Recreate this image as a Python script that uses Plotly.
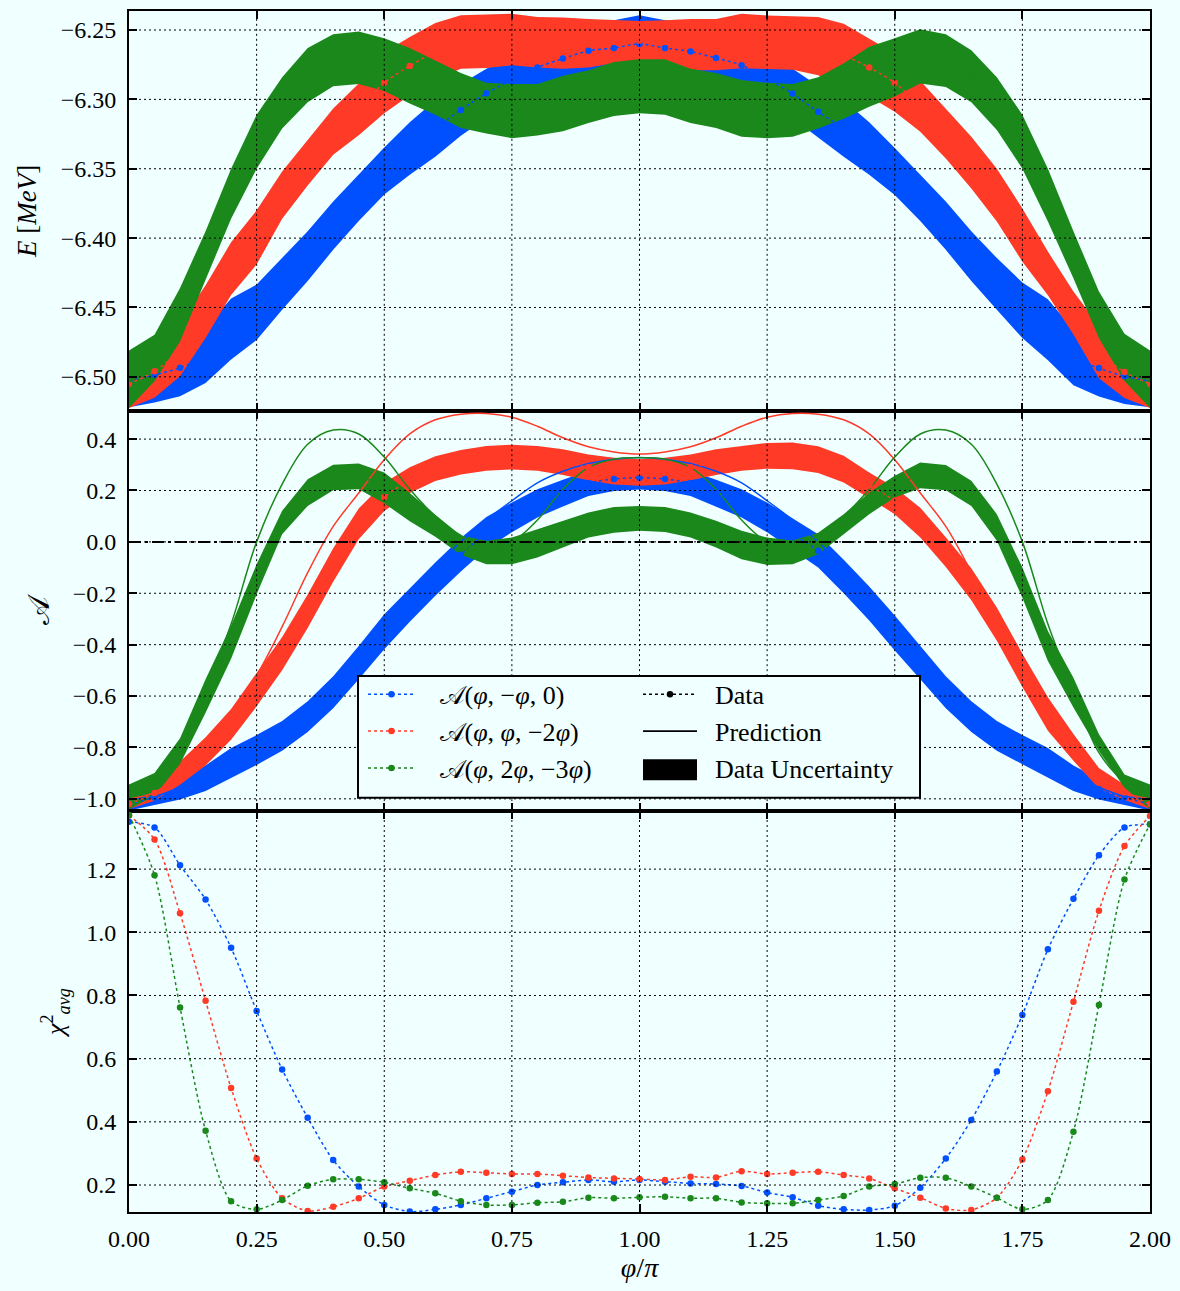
import plotly.graph_objects as go

# ---------------- data ----------------
PHI = [0.00, 0.05, 0.10, 0.15, 0.20, 0.25, 0.30, 0.35, 0.40, 0.45, 0.50,
       0.55, 0.60, 0.65, 0.70, 0.75, 0.80, 0.85, 0.90, 0.95, 1.00,
       1.05, 1.10, 1.15, 1.20, 1.25, 1.30, 1.35, 1.40, 1.45, 1.50,
       1.55, 1.60, 1.65, 1.70, 1.75, 1.80, 1.85, 1.90, 1.95, 2.00]

SERIES = ['𝒜(<i>φ</i>, −<i>φ</i>, 0)',
          '𝒜(<i>φ</i>, <i>φ</i>, −2<i>φ</i>)',
          '𝒜(<i>φ</i>, 2<i>φ</i>, −3<i>φ</i>)']
STYLE_LABELS = ['Data', 'Prediction', 'Data Uncertainty']
COLORS = ['#0050ff', '#ff3b28', '#1b881b']

X_TICKS = [0.00, 0.25, 0.50, 0.75, 1.00, 1.25, 1.50, 1.75, 2.00]
E_TICKS = [-6.50, -6.45, -6.40, -6.35, -6.30, -6.25]
A_TICKS = [-1.0, -0.8, -0.6, -0.4, -0.2, 0.0, 0.2, 0.4]
CHI_TICKS = [0.2, 0.4, 0.6, 0.8, 1.0, 1.2]

# energy (top panel): data and uncertainty
E_BLUE = [-6.5030, -6.4985, -6.4935, -6.4845, -6.4655, -6.4535, -6.4330, -6.4130, -6.3910, -6.3710, -6.3516,
          -6.3354, -6.3210, -6.3076, -6.2956, -6.2860, -6.2770, -6.2706, -6.2650, -6.2630, -6.2600,
          -6.2630, -6.2655, -6.2702, -6.2754, -6.2850, -6.2958, -6.3090, -6.3210, -6.3354, -6.3520,
          -6.3710, -6.3910, -6.4130, -6.4330, -6.4520, -6.4660, -6.4860, -6.4937, -6.4996, -6.5030]
E_BLUE_ERR = [0.019, 0.020, 0.0205, 0.020, 0.022, 0.020, 0.0186, 0.018, 0.0174, 0.0167, 0.017,
              0.019, 0.0204, 0.0186, 0.0178, 0.019, 0.019, 0.020, 0.020, 0.020, 0.0206,
              0.020, 0.020, 0.020, 0.019, 0.019, 0.0178, 0.0186, 0.0204, 0.019, 0.017,
              0.0167, 0.0174, 0.018, 0.0186, 0.020, 0.022, 0.020, 0.0205, 0.020, 0.019]
E_RED = [-6.5050, -6.4960, -6.4806, -6.4530, -6.4220, -6.3995, -6.3690, -6.3455, -6.3233, -6.3072, -6.2880,
         -6.2760, -6.2655, -6.2587, -6.2580, -6.2568, -6.2588, -6.2595, -6.2595, -6.2585, -6.2578,
         -6.2585, -6.2605, -6.2605, -6.2579, -6.2588, -6.2593, -6.2616, -6.2683, -6.2770, -6.2880,
         -6.3050, -6.3246, -6.3456, -6.3690, -6.3978, -6.4254, -6.4540, -6.4820, -6.4965, -6.5050]
E_RED_ERR = [0.0175, 0.019, 0.019, 0.019, 0.019, 0.0195, 0.017, 0.0165, 0.0167, 0.0186, 0.022,
             0.021, 0.0205, 0.0193, 0.0194, 0.0186, 0.0182, 0.0185, 0.0175, 0.0155, 0.0143,
             0.0155, 0.0185, 0.0185, 0.0196, 0.0193, 0.0193, 0.021, 0.0228, 0.021, 0.021,
             0.0184, 0.018, 0.0186, 0.019, 0.0192, 0.0157, 0.0155, 0.019, 0.0187, 0.0175]
E_GREEN = [-6.5017, -6.4864, -6.4553, -6.4125, -6.3680, -6.3305, -6.3025, -6.2825, -6.2718, -6.2700, -6.2750,
           -6.2830, -6.2915, -6.3008, -6.3063, -6.3085, -6.3075, -6.3030, -6.2980, -6.2925, -6.2905,
           -6.2910, -6.2975, -6.3008, -6.3065, -6.3080, -6.3080, -6.3025, -6.2940, -6.2837, -6.2770,
           -6.2690, -6.2720, -6.2833, -6.3030, -6.3305, -6.3690, -6.4120, -6.4553, -6.4860, -6.5017]
E_GREEN_ERR = [0.0207, 0.0167, 0.0193, 0.0175, 0.018, 0.0195, 0.0185, 0.0195, 0.0188, 0.019, 0.019,
               0.020, 0.0195, 0.0198, 0.0183, 0.0195, 0.0185, 0.020, 0.019, 0.0195, 0.0195,
               0.020, 0.0195, 0.0198, 0.0205, 0.020, 0.019, 0.0185, 0.020, 0.0217, 0.021,
               0.0195, 0.019, 0.0187, 0.019, 0.0195, 0.019, 0.017, 0.0168, 0.017, 0.0207]

# asymmetry (middle panel): data, uncertainty, prediction
A_BLUE = [-1.020, -0.995, -0.963, -0.920, -0.860, -0.810, -0.755, -0.680, -0.585, -0.470, -0.350,
          -0.245, -0.145, -0.050, 0.035, 0.095, 0.150, 0.190, 0.228, 0.245, 0.250,
          0.245, 0.228, 0.190, 0.150, 0.095, 0.030, -0.035, -0.135, -0.240, -0.355,
          -0.470, -0.585, -0.680, -0.755, -0.810, -0.860, -0.920, -0.963, -0.995, -1.020]
A_BLUE_ERR = [0.025, 0.03, 0.04, 0.05, 0.058, 0.058, 0.058, 0.06, 0.062, 0.065, 0.068,
              0.066, 0.065, 0.065, 0.062, 0.058, 0.055, 0.052, 0.049, 0.047, 0.046,
              0.047, 0.049, 0.052, 0.055, 0.058, 0.062, 0.065, 0.065, 0.066, 0.068,
              0.065, 0.062, 0.06, 0.058, 0.058, 0.058, 0.05, 0.04, 0.03, 0.025]
A_RED = [-1.020, -0.977, -0.900, -0.815, -0.710, -0.575, -0.435, -0.270, -0.090, 0.070, 0.175,
         0.240, 0.285, 0.310, 0.325, 0.330, 0.325, 0.310, 0.290, 0.275, 0.270,
         0.275, 0.290, 0.310, 0.325, 0.335, 0.335, 0.320, 0.283, 0.220, 0.160,
         0.075, -0.040, -0.165, -0.320, -0.500, -0.670, -0.800, -0.920, -0.975, -1.020]
A_RED_ERR = [0.02, 0.03, 0.045, 0.055, 0.06, 0.065, 0.065, 0.065, 0.065, 0.06, 0.055,
             0.05, 0.048, 0.048, 0.048, 0.048, 0.048, 0.05, 0.05, 0.052, 0.052,
             0.052, 0.05, 0.05, 0.048, 0.05, 0.052, 0.052, 0.052, 0.05, 0.052,
             0.058, 0.058, 0.062, 0.065, 0.065, 0.065, 0.052, 0.04, 0.03, 0.02]
A_GREEN = [-0.9925, -0.944, -0.814, -0.600, -0.390, -0.1455, 0.0755, 0.192, 0.2505, 0.255, 0.210,
           0.135, 0.0625, -0.0125, -0.0415, -0.035, -0.006, 0.030, 0.0655, 0.086, 0.0915,
           0.087, 0.0655, 0.030, -0.0125, -0.0365, -0.041, -0.006, 0.069, 0.150, 0.215,
           0.259, 0.250, 0.189, 0.056, -0.1585, -0.4055, -0.587, -0.7815, -0.931, -0.9925]
A_GREEN_ERR = [0.0485, 0.045, 0.05, 0.065, 0.065, 0.0585, 0.0455, 0.052, 0.05, 0.05, 0.06,
               0.055, 0.043, 0.0375, 0.0455, 0.052, 0.055, 0.052, 0.0485, 0.05, 0.0485,
               0.049, 0.0485, 0.052, 0.0555, 0.0535, 0.046, 0.042, 0.039, 0.042, 0.042,
               0.05, 0.049, 0.049, 0.052, 0.0585, 0.0585, 0.058, 0.0325, 0.026, 0.0485]

A_BLUE_PRED = [-1.000, -0.990, -0.955, -0.905, -0.845, -0.790, -0.725, -0.645, -0.550, -0.440, -0.320,
               -0.205, -0.100, 0.000, 0.085, 0.160, 0.230, 0.275, 0.305, 0.322, 0.328,
               0.322, 0.305, 0.275, 0.230, 0.160, 0.085, 0.000, -0.100, -0.205, -0.320,
               -0.440, -0.550, -0.645, -0.725, -0.790, -0.845, -0.905, -0.955, -0.990, -1.000]
A_RED_PRED = [-1.000, -0.975, -0.900, -0.800, -0.670, -0.520, -0.330, -0.120, 0.060, 0.190, 0.320,
              0.420, 0.475, 0.497, 0.500, 0.485, 0.450, 0.405, 0.370, 0.350, 0.342,
              0.350, 0.370, 0.405, 0.450, 0.485, 0.500, 0.497, 0.475, 0.420, 0.320,
              0.190, 0.060, -0.120, -0.330, -0.520, -0.670, -0.800, -0.900, -0.975, -1.000]
A_GREEN_PRED = [-0.960, -0.930, -0.820, -0.580, -0.320, 0.000, 0.225, 0.380, 0.435, 0.420, 0.330,
                0.205, 0.100, 0.025, -0.020, 0.000, 0.085, 0.205, 0.290, 0.322, 0.327,
                0.322, 0.290, 0.205, 0.085, 0.000, -0.020, 0.025, 0.100, 0.205, 0.330,
                0.420, 0.435, 0.380, 0.225, 0.000, -0.320, -0.580, -0.820, -0.930, -0.960]

# chi^2 (bottom panel)
CHI_BLUE = [1.350, 1.332, 1.212, 1.104, 0.951, 0.751, 0.566, 0.413, 0.279, 0.195, 0.137,
            0.116, 0.123, 0.137, 0.158, 0.179, 0.200, 0.2085, 0.216, 0.2105, 0.216,
            0.2105, 0.205, 0.203, 0.197, 0.176, 0.161, 0.1345, 0.123, 0.121, 0.1345,
            0.1915, 0.284, 0.406, 0.559, 0.738, 0.946, 1.106, 1.244, 1.332, 1.342]
CHI_RED = [1.370, 1.294, 1.060, 0.783, 0.507, 0.284, 0.158, 0.118, 0.131, 0.158, 0.195,
           0.2137, 0.2316, 0.242, 0.239, 0.235, 0.235, 0.2295, 0.224, 0.221, 0.219,
           0.216, 0.226, 0.224, 0.244, 0.235, 0.239, 0.242, 0.2316, 0.221, 0.1895,
           0.160, 0.126, 0.121, 0.160, 0.281, 0.497, 0.780, 1.068, 1.273, 1.368]
CHI_GREEN = [1.371, 1.181, 0.762, 0.372, 0.149, 0.123, 0.1525, 0.198, 0.218, 0.218, 0.2085,
             0.1895, 0.174, 0.149, 0.137, 0.137, 0.144, 0.147, 0.160, 0.158, 0.161,
             0.163, 0.158, 0.158, 0.145, 0.142, 0.142, 0.1525, 0.165, 0.195, 0.203,
             0.223, 0.223, 0.195, 0.160, 0.123, 0.1525, 0.369, 0.770, 1.167, 1.342]

# ---------------- style ----------------
BG = '#f0ffff'
FONT = 'Liberation Serif, Times New Roman, serif'
GRID_LINE = dict(color='black', width=1, dash='2px,3px')
NB = '\u00a0'

fig = go.Figure()


def add_band(center, err, color, xa, ya):
    upper = [c + e for c, e in zip(center, err)]
    lower = [c - e for c, e in zip(center, err)]
    fig.add_trace(go.Scatter(
        x=PHI + PHI[::-1], y=upper + lower[::-1], mode='lines', fill='toself',
        fillcolor=color, line=dict(width=0, color=color), hoverinfo='skip',
        showlegend=False, xaxis=xa, yaxis=ya))


def add_data(vals, color, xa, ya, name=None, legend=False):
    fig.add_trace(go.Scatter(
        x=PHI, y=vals, mode='lines+markers', name=name,
        line=dict(color=color, width=1.5, dash='dot', shape='spline', smoothing=0.8),
        marker=dict(size=6.5, color=color, line=dict(width=0)),
        showlegend=legend, legend='legend', xaxis=xa, yaxis=ya))


def add_pred(vals, color, xa, ya):
    fig.add_trace(go.Scatter(
        x=PHI, y=vals, mode='lines', line=dict(color=color, width=1.5, shape='spline', smoothing=1.0),
        showlegend=False, hoverinfo='skip', xaxis=xa, yaxis=ya))


E_SETS = [(E_BLUE, E_BLUE_ERR), (E_RED, E_RED_ERR), (E_GREEN, E_GREEN_ERR)]
A_SETS = [(A_BLUE, A_BLUE_ERR, A_BLUE_PRED), (A_RED, A_RED_ERR, A_RED_PRED),
          (A_GREEN, A_GREEN_ERR, A_GREEN_PRED)]
CHI_SETS = [CHI_BLUE, CHI_RED, CHI_GREEN]

# top panel
for (c, e), col in zip(E_SETS, COLORS):
    add_band(c, e, col, 'x', 'y')
for (c, e), col in zip(E_SETS, COLORS):
    add_data(c, col, 'x', 'y')

# middle panel
for (c, e, p), col in zip(A_SETS, COLORS):
    add_band(c, e, col, 'x2', 'y2')
for (c, e, p), col in zip(A_SETS, COLORS):
    add_pred(p, col, 'x2', 'y2')
for (c, e, p), col in zip(A_SETS, COLORS):
    add_data(c, col, 'x2', 'y2')

# bottom panel (also carries the series legend)
for vals, col, name in zip(CHI_SETS, COLORS, SERIES):
    add_data(vals, col, 'x3', 'y3', name=NB * 3 + name, legend=True)

# style legend entries
fig.add_trace(go.Scatter(x=[None], y=[None], mode='lines+markers', name=NB * 2 + STYLE_LABELS[0],
                         line=dict(color='black', width=1.5, dash='dot'),
                         marker=dict(size=6.5, color='black'), legend='legend2',
                         xaxis='x3', yaxis='y3'))
fig.add_trace(go.Scatter(x=[None], y=[None], mode='lines', name=NB * 2 + STYLE_LABELS[1],
                         line=dict(color='black', width=1.6), legend='legend2',
                         xaxis='x3', yaxis='y3'))
fig.add_trace(go.Scatter(x=[None], y=[None], mode='lines', name=NB * 2 + STYLE_LABELS[2],
                         line=dict(color='black', width=20), legend='legend2',
                         xaxis='x3', yaxis='y3'))

# ---------------- shapes: grid above data, zero line, legend frame ----------------
shapes = []
for xa, ya, yt in [('x', 'y', E_TICKS), ('x2', 'y2', A_TICKS), ('x3', 'y3', CHI_TICKS)]:
    for xv in X_TICKS[1:-1]:
        shapes.append(dict(type='line', xref=xa, yref=ya + ' domain', x0=xv, x1=xv, y0=0, y1=1,
                           line=GRID_LINE, layer='above'))
    for yv in yt:
        shapes.append(dict(type='line', xref=xa + ' domain', yref=ya, x0=0, x1=1, y0=yv, y1=yv,
                           line=GRID_LINE, layer='above'))
shapes.append(dict(type='line', xref='x2 domain', yref='y2', x0=0, x1=1, y0=0, y1=0,
                   line=dict(color='black', width=2, dash='12px,4px,3px,4px'), layer='above'))

PW, PL, PB, PH = 1021.0, 129.0, 1212.0, 1203.0
def px_x(v):
    return (v - PL) / PW
def px_y(v):
    return (PB - v) / PH

shapes.append(dict(type='rect', xref='paper', yref='paper',
                   x0=px_x(358), x1=px_x(920), y0=px_y(797), y1=px_y(675),
                   fillcolor=BG, line=dict(color='black', width=2), layer='above'))
# wide block behind the "Data Uncertainty" legend key
shapes.append(dict(type='rect', xref='paper', yref='paper',
                   x0=px_x(643), x1=px_x(697), y0=px_y(779.5), y1=px_y(758.5),
                   fillcolor='black', line=dict(width=0), layer='above'))

tickfont = dict(family=FONT, size=24, color='black')
axis_common = dict(showline=True, linecolor='black', linewidth=2, mirror='allticks',
                   ticks='inside', ticklen=8, tickwidth=1.5, tickcolor='black',
                   showgrid=False, zeroline=False, tickfont=tickfont)

D1 = px_y(810.5)
D2 = px_y(409.5)

fig.update_layout(
    width=1180, height=1291,
    margin=dict(l=129, r=30, t=9, b=79),
    paper_bgcolor=BG, plot_bgcolor=BG,
    font=dict(family=FONT, color='black'),
    shapes=shapes,
    xaxis=dict(axis_common, anchor='y', domain=[0, 1], range=[0, 2], tickvals=X_TICKS,
               showticklabels=False, matches='x3'),
    xaxis2=dict(axis_common, anchor='y2', domain=[0, 1], range=[0, 2], tickvals=X_TICKS,
                showticklabels=False, matches='x3'),
    xaxis3=dict(axis_common, anchor='y3', domain=[0, 1], range=[0, 2], tickvals=X_TICKS,
                tickformat='.2f', ticklabelstandoff=4,
                title=dict(text='<i>φ</i>/<i>π</i>', font=dict(family=FONT, size=28), standoff=6)),
    yaxis=dict(axis_common, anchor='x', domain=[D2, 1], range=[-6.5245, -6.2363],
               tickvals=E_TICKS, tickformat='.2f', ticklabelstandoff=6,
               title=dict(text='<i>E</i> [<i>MeV</i>]', font=dict(family=FONT, size=27), standoff=16)),
    yaxis2=dict(axis_common, anchor='x2', domain=[D1, D2], range=[-1.048, 0.51],
                tickvals=A_TICKS, tickformat='.1f', ticklabelstandoff=6,
                title=dict(text='𝒜', font=dict(family=FONT, size=30), standoff=14)),
    yaxis3=dict(axis_common, anchor='x3', domain=[0, D1], range=[0.1146, 1.3835],
                tickvals=CHI_TICKS, tickformat='.1f', ticklabelstandoff=6,
                title=dict(text='<i>χ</i><sup>2</sup><sub><i>avg</i></sub>',
                           font=dict(family=FONT, size=26), standoff=14)),
    legend=dict(x=px_x(363), y=px_y(670), xanchor='left', yanchor='top',
                bgcolor='rgba(0,0,0,0)', borderwidth=0, itemwidth=47,
                font=dict(family=FONT, size=26, color='black'), tracegroupgap=0),
    legend2=dict(x=px_x(638), y=px_y(670), xanchor='left', yanchor='top',
                 bgcolor='rgba(0,0,0,0)', borderwidth=0, itemwidth=54,
                 font=dict(family=FONT, size=26, color='black'), tracegroupgap=0),
    hovermode=False,
)

fig.write_html('out.html')
